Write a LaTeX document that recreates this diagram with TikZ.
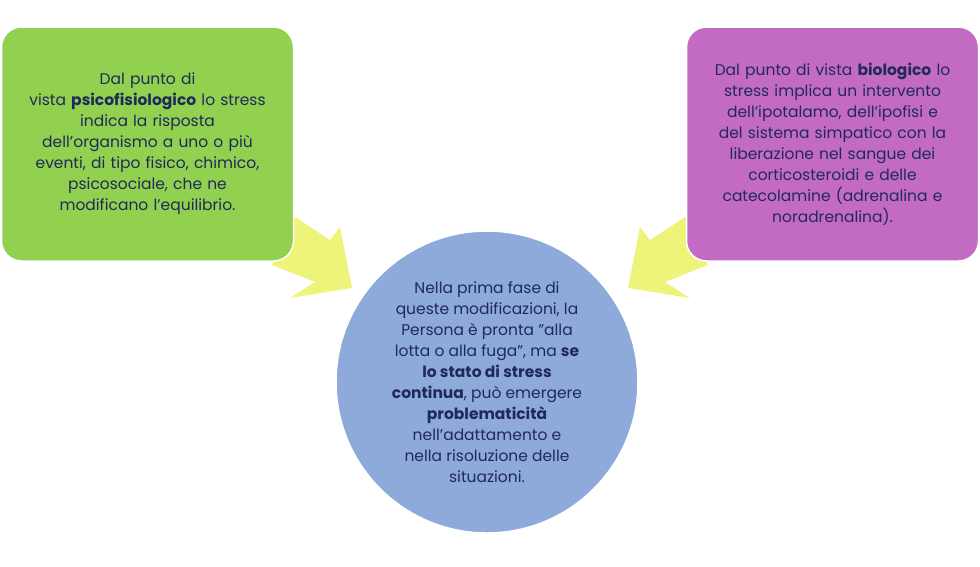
\documentclass[tikz,border=0pt]{standalone}
\usepackage{fontspec}
\setmainfont{Poppins}
\definecolor{txt}{HTML}{1F2A5A}
\definecolor{gbox}{HTML}{92D050}
\definecolor{mbox}{HTML}{C36BC2}
\definecolor{circ}{HTML}{8EAADB}
\definecolor{arr}{HTML}{EEF47A}
\newcommand{\dq}{\char"22\relax}
\begin{document}
\begin{tikzpicture}[x=1pt,y=-1pt,
  box/.style={rounded corners=20pt,draw=white,line width=1.5pt,text=txt,align=center,font=\fontsize{15.5}{21}\selectfont},
  yarrow/.style={fill=arr}]
\useasboundingbox (0,0) rectangle (980,566);
\fill[yarrow] (272,265) -- (295,217) -- (330,240) -- (340,227) -- (352,288) -- (290,298) -- (315,282) -- cycle;
\fill[yarrow] (708,265) -- (685,217) -- (650,240) -- (640,227) -- (628,288) -- (690,298) -- (665,282) -- cycle;
\node[box,fill=gbox,minimum width=292pt,minimum height=234pt,text width=280pt] (g) at (147.5,144)
{Dal punto di\\ vista \textbf{psicofisiologico} lo stress\\ indica la risposta\\ dell’organismo a uno o più\\ eventi, di tipo fisico, chimico,\\ psicosociale, che ne\\ modificano l’equilibrio.};
\node[box,fill=mbox,minimum width=292pt,minimum height=234pt,text width=285pt] (m) at (832.5,144)
{Dal punto di vista \textbf{biologico} lo\\ stress implica un intervento\\ dell’ipotalamo, dell’ipofisi e\\ del sistema simpatico con la\\ liberazione nel sangue dei\\ corticosteroidi e delle\\ catecolamine (adrenalina e\\ noradrenalina).};
\node[circle,fill=circ,draw=white,line width=1.5pt,minimum size=302pt,inner sep=0pt,text=txt,align=center,font=\fontsize{15.5}{21}\selectfont] (c) at (487,382)
{Nella prima fase di\\ queste modificazioni, la\\ Persona è pronta \dq alla\\ lotta o alla fuga\dq, ma \textbf{se}\\ \textbf{lo stato di stress}\\ \textbf{continua}, può emergere\\ \textbf{problematicità}\\ nell’adattamento e\\ nella risoluzione delle\\ situazioni.};
\end{tikzpicture}
\end{document}
